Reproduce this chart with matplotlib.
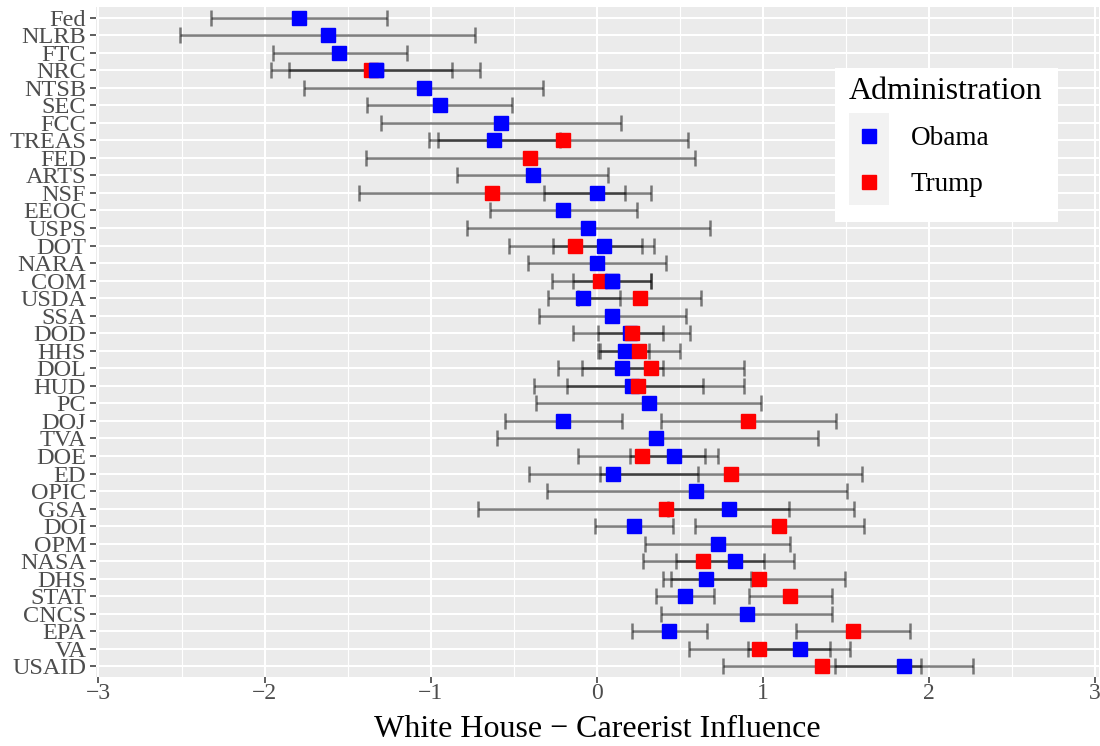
import numpy as np
import matplotlib
matplotlib.use('Agg')
import matplotlib.pyplot as plt
from matplotlib.patches import Rectangle
from matplotlib.lines import Line2D
from matplotlib.legend_handler import HandlerBase

plt.rcParams['font.family'] = ['Liberation Serif', 'DejaVu Serif']

nan = np.nan

# agencies, top to bottom
agencies = ['Fed', 'NLRB', 'FTC', 'NRC', 'NTSB', 'SEC', 'FCC', 'TREAS', 'FED', 'ARTS',
            'NSF', 'EEOC', 'USPS', 'DOT', 'NARA', 'COM', 'USDA', 'SSA', 'DOD', 'HHS',
            'DOL', 'HUD', 'PC', 'DOJ', 'TVA', 'DOE', 'ED', 'OPIC', 'GSA', 'DOI',
            'OPM', 'NASA', 'DHS', 'STAT', 'CNCS', 'EPA', 'VA', 'USAID']

# Obama estimates and interval bounds
obama_est = [-1.79, -1.62, -1.55, -1.33, -1.04, -0.945, -0.578, -0.62, nan, -0.385,
             0.0, -0.2, -0.05, 0.045, 0.0, 0.09, -0.08, 0.09, 0.20, 0.17,
             0.155, 0.21, 0.317, -0.2, 0.36, 0.467, 0.10, 0.6, 0.795, 0.224,
             0.733, 0.834, 0.66, 0.534, 0.908, 0.437, 1.223, 1.849]
obama_lo = [-2.325, -2.51, -1.95, -1.96, -1.76, -1.385, -1.30, -1.01, nan, -0.84,
            -0.32, -0.64, -0.78, -0.26, -0.415, -0.145, -0.295, -0.35, 0.01, 0.01,
            -0.09, -0.18, -0.363, -0.55, -0.6, 0.2, -0.41, -0.30, 0.43, -0.01,
            0.29, 0.48, 0.40, 0.36, 0.39, 0.213, 0.91, 1.434]
obama_hi = [-1.26, -0.735, -1.14, -0.705, -0.325, -0.51, 0.145, -0.22, nan, 0.07,
            0.325, 0.245, 0.68, 0.345, 0.415, 0.33, 0.14, 0.54, 0.40, 0.317,
            0.40, 0.64, 0.99, 0.155, 1.33, 0.73, 0.61, 1.51, 1.157, 0.462,
            1.167, 1.19, 0.928, 0.705, 1.42, 0.666, 1.528, 2.265]

# Trump estimates and interval bounds
trump_est = [nan, nan, nan, -1.36, nan, nan, nan, -0.2, -0.40, nan,
             -0.63, nan, nan, -0.13, nan, 0.02, 0.26, nan, 0.215, 0.253,
             0.33, 0.25, nan, 0.913, nan, 0.27, 0.807, nan, 0.42, 1.10,
             nan, 0.643, 0.98, 1.167, nan, 1.543, 0.98, 1.355]
trump_lo = [nan, nan, nan, -1.85, nan, nan, nan, -0.954, -1.39, nan,
            -1.43, nan, nan, -0.53, nan, -0.27, -0.11, nan, -0.14, 0.02,
            -0.23, -0.38, nan, 0.39, nan, -0.11, 0.022, nan, -0.714, 0.59,
            nan, 0.277, 0.45, 0.92, nan, 1.20, 0.554, 0.759]
trump_hi = [nan, nan, nan, -0.87, nan, nan, nan, 0.548, 0.595, nan,
            0.17, nan, nan, 0.27, nan, 0.33, 0.63, nan, 0.565, 0.50,
            0.885, 0.885, nan, 1.44, nan, 0.65, 1.60, nan, 1.55, 1.607,
            nan, 1.01, 1.498, 1.416, nan, 1.886, 1.404, 1.952]

# rows where the Obama point sits on top of the Trump point
obama_on_top = ['NRC', 'COM']

obama_color = '#0000FF'
trump_color = '#FF0000'

y = np.arange(len(agencies))
fig = plt.figure(figsize=(11, 7.46), dpi=100)
ax = fig.add_axes([96 / 1100, 1 - 677 / 746, 1003 / 1100, 670 / 746])
ax.set_facecolor('#EBEBEB')

for est, lo, hi in [(obama_est, obama_lo, obama_hi), (trump_est, trump_lo, trump_hi)]:
    est = np.array(est)
    lo = np.array(lo)
    hi = np.array(hi)
    ok = ~np.isnan(est)
    ax.errorbar(est[ok], y[ok], xerr=[est[ok] - lo[ok], hi[ok] - est[ok]], fmt='none',
                ecolor='black', alpha=0.5, elinewidth=1.8, capsize=5.5, capthick=1.8, zorder=2)

ob = np.array(obama_est)
tr = np.array(trump_est)
ax.plot(ob, y, 's', color=obama_color, markersize=10, linestyle='none', zorder=3)
ax.plot(tr, y, 's', color=trump_color, markersize=10, linestyle='none', zorder=4)
top = np.array([a in obama_on_top for a in agencies])
ax.plot(ob[top], y[top], 's', color=obama_color, markersize=10, linestyle='none', zorder=4.5)

ax.set_xlim(-3.015, 3.025)
ax.set_ylim(len(agencies) - 0.4, -0.6)
ax.set_xticks([-3, -2, -1, 0, 1, 2, 3])
ax.set_xticks([-2.5, -1.5, -0.5, 0.5, 1.5, 2.5], minor=True)
ax.set_yticks(y)
ax.set_yticklabels(agencies)
ax.grid(which='major', color='white', linewidth=1.5)
ax.grid(which='minor', axis='x', color='white', linewidth=0.8)
ax.set_axisbelow(True)
for s in ax.spines.values():
    s.set_visible(False)
ax.tick_params(axis='both', which='major', length=4, width=1.1, color='#333333',
               labelcolor='#4D4D4D', labelsize=17, pad=2)
ax.tick_params(axis='y', labelsize=17.5, pad=3)
ax.tick_params(axis='x', pad=0.5)
ax.tick_params(axis='both', which='minor', length=0)
ax.set_xlabel('White House \u2212 Careerist Influence', fontsize=23, labelpad=8)


class KeyHandler(HandlerBase):
    def create_artists(self, legend, orig_handle, xdescent, ydescent, width, height, fontsize, trans):
        cy = height / 2 - ydescent
        half = 0.86 * fontsize
        bg = Rectangle((-xdescent, cy - half), width, 2 * half,
                       facecolor='#F2F2F2', edgecolor='none', transform=trans)
        sq = Line2D([width / 2 - xdescent], [cy], marker='s',
                    markersize=10, color=orig_handle.get_color(), linestyle='none', transform=trans)
        return [bg, sq]


# white legend panel
ax.add_patch(Rectangle((835 / 1100, 1 - 222 / 746), 223 / 1100, 154 / 746,
                       transform=fig.transFigure, facecolor='white', edgecolor='none',
                       zorder=5.5))

handles = [Line2D([], [], color=obama_color), Line2D([], [], color=trump_color)]
leg = ax.legend(handles, ['Obama', 'Trump'], title='Administration',
                handler_map={Line2D: KeyHandler()},
                loc='upper left', bbox_to_anchor=(835 / 1100, 1 - 63 / 746),
                bbox_transform=fig.transFigure, fontsize=19.5, title_fontsize=23,
                frameon=False, handlelength=1.5, handleheight=1.2, handletextpad=0.8,
                labelspacing=0.62, borderpad=0.5, alignment='left', borderaxespad=0)
leg.set_zorder(6)

fig.savefig('out.png', dpi=100)
